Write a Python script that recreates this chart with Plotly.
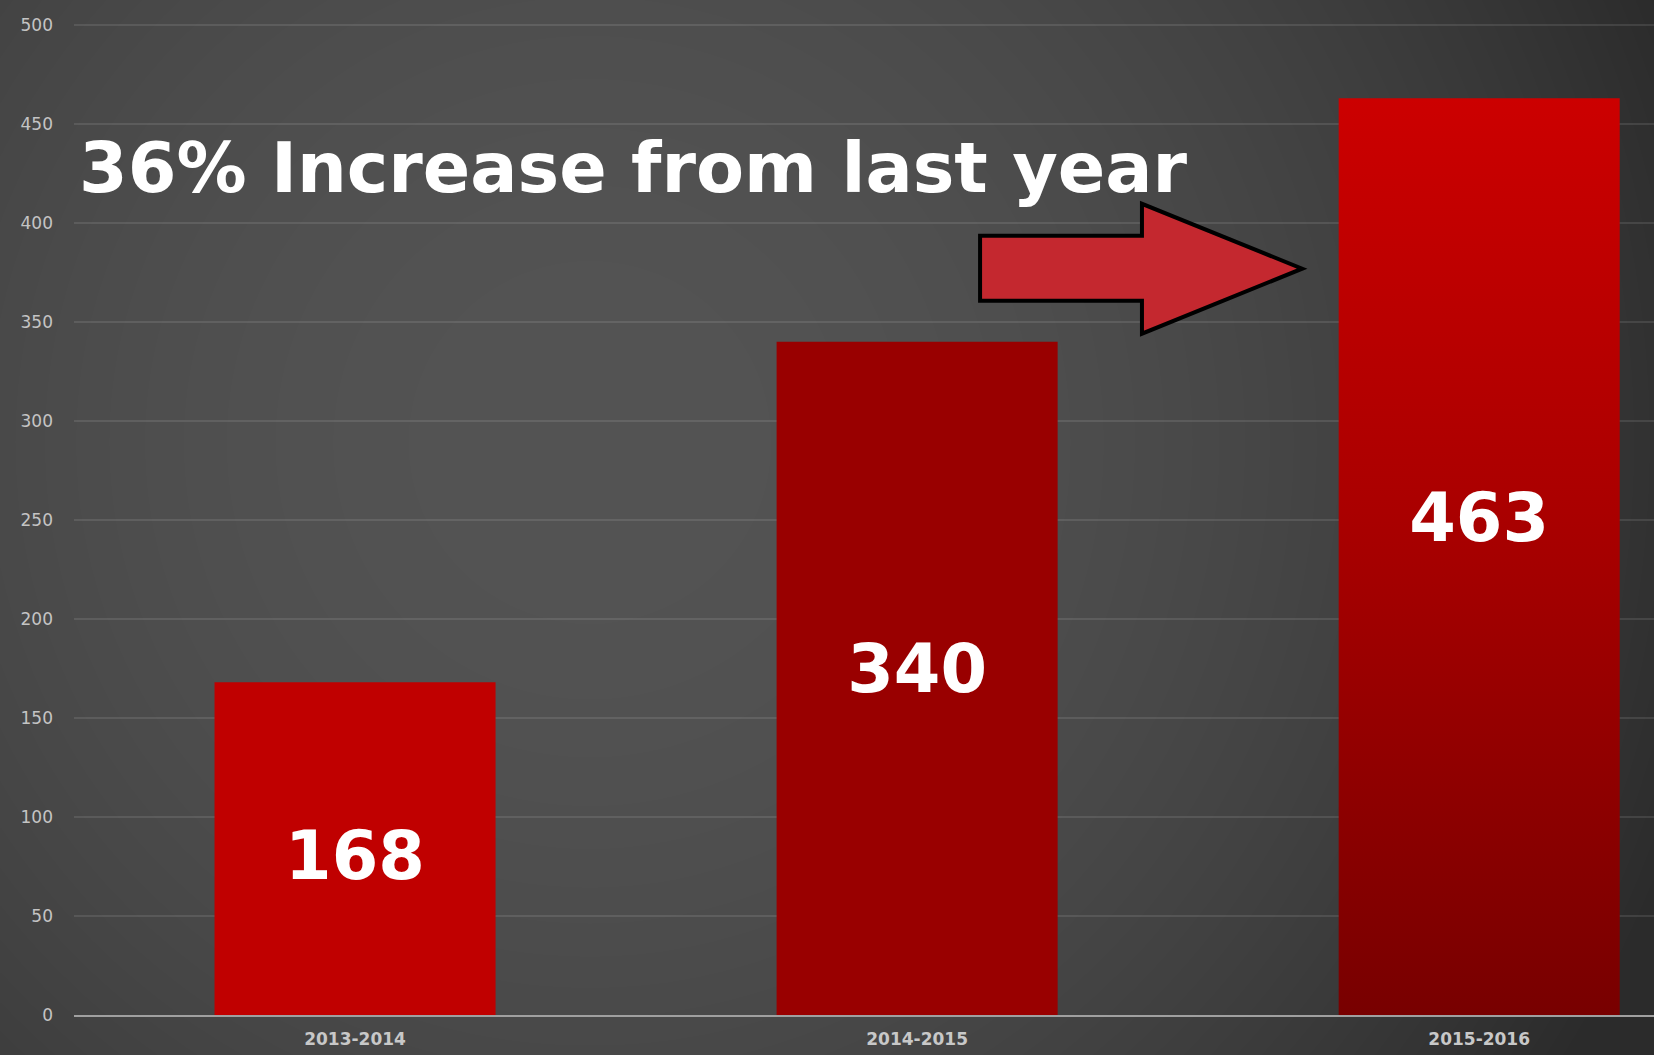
import plotly.graph_objects as go

# ---- data ----
categories = ["2013-2014", "2014-2015", "2015-2016"]
values = [168, 340, 463]
y_ticks = [0, 50, 100, 150, 200, 250, 300, 350, 400, 450, 500]
headline = "36% Increase from last year"

# ---- style ----
bar_colors = ["#c00000", "#990000", "rgba(0,0,0,0)"]
label_frac = [0.46, 0.505, 0.535]   # vertical placement of value labels within bars
BAR_W = 0.5
idx = list(range(len(categories)))

fig = go.Figure()

# solid bars
fig.add_trace(go.Bar(
    x=idx, y=values, width=BAR_W,
    marker=dict(color=bar_colors, line=dict(width=0)),
    hoverinfo="skip", showlegend=False,
))

# last bar with vertical gradient (polygon from the data value)
last = idx[-1]
v = values[-1]
fig.add_trace(go.Scatter(
    x=[last - BAR_W / 2, last + BAR_W / 2, last + BAR_W / 2, last - BAR_W / 2, last - BAR_W / 2],
    y=[0, 0, v, v, 0],
    mode="lines", line=dict(width=0),
    fill="toself",
    fillgradient=dict(type="vertical",
                      colorscale=[[0, "#780000"], [0.55, "#aa0000"], [1, "#cc0000"]]),
    hoverinfo="skip", showlegend=False,
))

# value labels
fig.add_trace(go.Scatter(
    x=idx, y=[val * f for val, f in zip(values, label_frac)],
    mode="text", text=[str(val) for val in values],
    textfont=dict(family="DejaVu Sans", size=67, color="white", weight="bold"),
    hoverinfo="skip", showlegend=False,
))

# radial background glow
shapes = []
n = 40
R = 1150.0
cx, cy = (590 - 74) / 1580, 1 - (443 - 24) / 991
for k in range(n, 0, -1):
    r = R * (k / n) ** 0.5
    rx, ry = r / 1580, r / 991
    shapes.append(dict(type="circle", xref="paper", yref="paper",
                       x0=cx - rx, x1=cx + rx, y0=cy - ry, y1=cy + ry,
                       fillcolor="rgba(255,255,255,0.0065)", line=dict(width=0),
                       layer="below"))

# arrow
shapes.append(dict(
    type="path", xref="x", yref="y",
    path="M 1.112,360.7 L 1.400,360.7 L 1.400,344.1 L 1.685,376.9 L 1.400,409.7 L 1.400,393.5 L 1.112,393.5 Z",
    fillcolor="#c4282f", line=dict(color="black", width=4), layer="above",
))

fig.update_layout(
    width=1654, height=1055,
    margin=dict(l=74, r=0, t=23, b=40),
    paper_bgcolor="#2b2b2b", plot_bgcolor="rgba(0,0,0,0)",
    shapes=shapes,
    annotations=[dict(
        x=-0.494, y=428, xref="x", yref="y",
        text=headline, showarrow=False, xanchor="left", yanchor="middle",
        font=dict(family="DejaVu Sans", size=70, color="white", weight="bold"),
    )],
    xaxis=dict(
        range=[-0.5, 2.311], tickmode="array", tickvals=idx, ticktext=categories,
        showgrid=False, zeroline=False, showline=True, linecolor="#a0a0a0", linewidth=2,
        ticks="", ticklabelstandoff=8,
        tickfont=dict(family="DejaVu Sans", size=17, color="#c8c8c8", weight="bold"),
        fixedrange=True,
    ),
    yaxis=dict(
        range=[0, 501], tickmode="array", tickvals=y_ticks,
        showgrid=True, gridcolor="rgba(255,255,255,0.10)", gridwidth=1.5, zeroline=False,
        showline=False, ticks="", ticklabelstandoff=20,
        tickfont=dict(family="DejaVu Sans", size=17, color="#c4c4c4"),
        fixedrange=True,
    ),
)

fig.write_html("out.html", config={"displayModeBar": False},
               post_script="document.body.style.margin='0';document.body.style.overflow='hidden';")
